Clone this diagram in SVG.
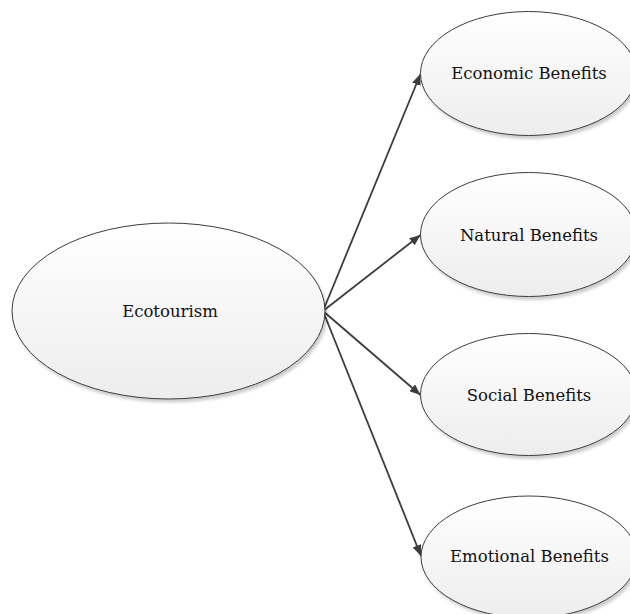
<svg xmlns="http://www.w3.org/2000/svg" width="630" height="614" viewBox="0 0 630 614">
  <defs>
    <linearGradient id="fillGrad" x1="0" y1="0" x2="0" y2="1">
      <stop offset="0" stop-color="#ffffff"/>
      <stop offset="1" stop-color="#ededed"/>
    </linearGradient>
    <filter id="shadow" x="-10%" y="-10%" width="125%" height="130%">
      <feGaussianBlur in="SourceAlpha" stdDeviation="1.5"/>
      <feOffset dx="2" dy="3" result="off"/>
      <feComponentTransfer><feFuncA type="linear" slope="0.2"/></feComponentTransfer>
      <feMerge><feMergeNode/><feMergeNode in="SourceGraphic"/></feMerge>
    </filter>
    <marker id="arrow" viewBox="0 0 11 9" refX="11" refY="4.5" markerWidth="11" markerHeight="9" markerUnits="userSpaceOnUse" orient="auto">
      <path d="M0,0 L11,4.5 L0,9 Z" fill="#3c3c3c"/>
    </marker>
  </defs>
  <style>
    .node ellipse { fill: url(#fillGrad); stroke: #3c3c3c; stroke-width: 1; filter: url(#shadow); }
    .node text { font-family: "DejaVu Serif", "Liberation Serif", serif; font-size: 16.5px; fill: #111; text-anchor: middle; dominant-baseline: central; }
    .edge { stroke: #3c3c3c; stroke-width: 1.8; fill: none; marker-end: url(#arrow); }
  </style>
  <rect width="630" height="614" fill="#ffffff"/>

  <g id="connectors">
    <line class="edge" x1="323" y1="311" x2="420.5" y2="74"/>
    <line class="edge" x1="323" y1="311" x2="420.5" y2="235"/>
    <line class="edge" x1="323" y1="311" x2="420.5" y2="395"/>
    <line class="edge" x1="323" y1="311" x2="421" y2="556"/>
  </g>

  <g id="ecotourism" class="node">
    <ellipse cx="168.5" cy="311" rx="156.5" ry="88"/>
    <text x="170" y="311">Ecotourism</text>
  </g>
  <g id="economic-benefits" class="node">
    <ellipse cx="528.5" cy="73.5" rx="108" ry="62"/>
    <text x="529" y="73">Economic Benefits</text>
  </g>
  <g id="natural-benefits" class="node">
    <ellipse cx="528.5" cy="234.5" rx="108" ry="62"/>
    <text x="529" y="235">Natural Benefits</text>
  </g>
  <g id="social-benefits" class="node">
    <ellipse cx="528.5" cy="394.5" rx="108" ry="61"/>
    <text x="529" y="395">Social Benefits</text>
  </g>
  <g id="emotional-benefits" class="node">
    <ellipse cx="529" cy="557" rx="108" ry="61"/>
    <text x="529.5" y="556">Emotional Benefits</text>
  </g>
</svg>
